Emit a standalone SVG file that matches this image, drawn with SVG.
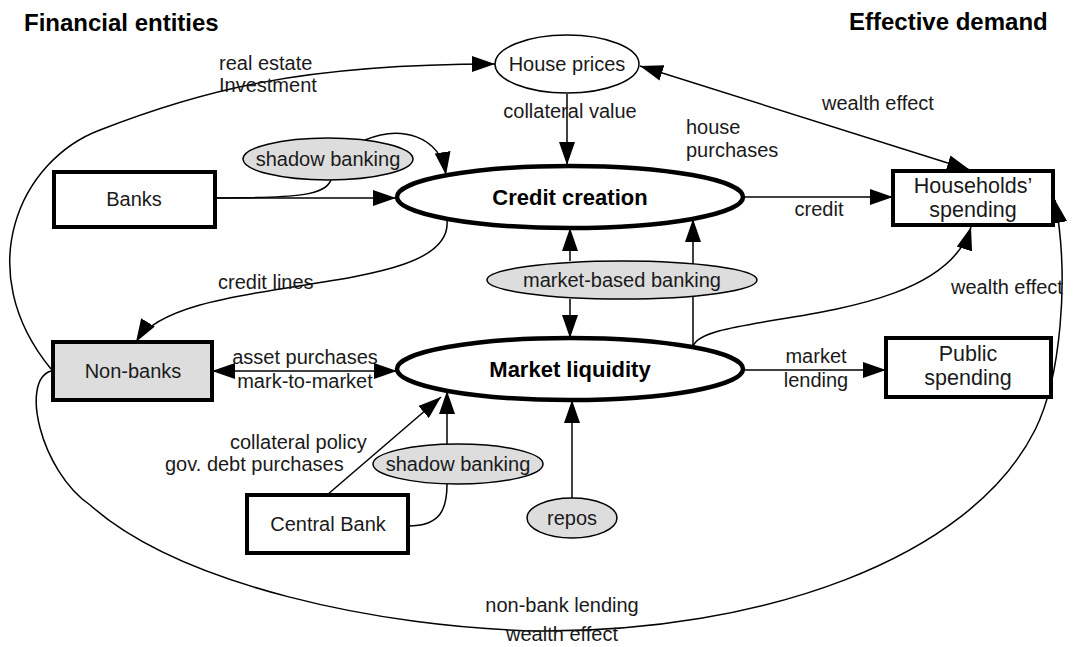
<svg xmlns="http://www.w3.org/2000/svg" width="1073" height="647" viewBox="0 0 1073 647">
<style>
text{font-family:"Liberation Sans",Arial,sans-serif;font-size:20px;fill:#1a1a1a}
.t{font-size:24px;font-weight:bold;fill:#000}
.b{font-size:22px;font-weight:bold;fill:#000}
.big{font-size:21.5px}
.m{text-anchor:middle}
.box{fill:#fff;stroke:#000;stroke-width:4}
.boxg{fill:#ddd;stroke:#000;stroke-width:4}
.ell{fill:#fff;stroke:#000;stroke-width:4.5}
.thin{fill:#fff;stroke:#000;stroke-width:1.5}
.grey{fill:#ddd;stroke:#000;stroke-width:1.5}
.c{fill:none;stroke:#000;stroke-width:1.5}
.a{marker-end:url(#ah)}
.aa{marker-start:url(#ah);marker-end:url(#ah)}
</style>
<defs>
<marker id="ah" markerUnits="userSpaceOnUse" markerWidth="23" markerHeight="16" refX="23" refY="8" orient="auto-start-reverse" viewBox="0 0 23 16">
<path d="M0,0 L23,8 L0,16 z" fill="#000"/>
</marker>
</defs>
<rect width="1073" height="647" fill="#fff"/>
<text class="t" x="24" y="31">Financial entities</text>
<text class="t" x="849" y="30">Effective demand</text>

<g id="connectors">
<path class="c a" d="M51,369 C-30,270 20,160 100,130 C200,91 300,64 495,64"/>
<path class="c a" d="M567,94 L567,165"/>
<path class="c aa" d="M640,66 L970,170"/>
<path class="c a" d="M215,198 L396,198"/>
<path class="c" d="M215,198 C300,198 325,195 331,180"/>
<path class="c a" d="M365,140 C400,125 440,135 446,175"/>
<path class="c a" d="M743,197 L893,197"/>
<path class="c a" d="M447,220 C455,300 180,270 136,342"/>
<path class="c a" d="M570,261 L570,228"/>
<path class="c a" d="M570,299 L570,338"/>
<path class="c a" d="M693,347 L693,219"/>
<path class="c a" d="M693,347 C700,310 940,330 971,227"/>
<path class="c aa" d="M212,371 L397,371"/>
<path class="c a" d="M743,370 L886,370"/>
<path class="c a" d="M327,495 L441,397"/>
<path class="c" d="M408,526 C440,526 447,510 447,484"/>
<path class="c a" d="M447,444 L447,391"/>
<path class="c a" d="M572,498 L572,400"/>
<path class="c a" d="M51,371 C20,380 40,470 90,505 C180,585 380,628 540,631 C760,632 970,560 1035,430 C1060,380 1070,280 1055,200"/>
</g>

<g id="labels">
<text x="219" y="70">real estate</text>
<text x="219" y="92">Investment</text>
<text class="m" x="570" y="118">collateral value</text>
<text x="686" y="134">house</text>
<text x="686" y="157">purchases</text>
<text x="822" y="110">wealth effect</text>
<text class="m" x="819" y="216">credit</text>
<text x="218" y="289">credit lines</text>
<text x="951" y="294">wealth effect</text>
<text class="m" x="305" y="364">asset purchases</text>
<text class="m" x="305" y="388">mark-to-market</text>
<text class="m" x="816" y="363">market</text>
<text class="m" x="816" y="387">lending</text>
<text x="230" y="449">collateral policy</text>
<text x="165" y="471">gov. debt purchases</text>
<text class="m" x="562" y="612">non-bank lending</text>
<text class="m" x="562" y="641">wealth effect</text>
</g>

<g id="house-prices"><ellipse class="thin" cx="567" cy="64" rx="72" ry="29"/><text class="m" x="567" y="71">House prices</text></g>
<g id="banks"><rect class="box" x="54" y="172" width="161" height="55"/><text class="m" x="134" y="206">Banks</text></g>
<g id="shadow-banking-1"><ellipse class="grey" cx="328" cy="159" rx="85" ry="21"/><text class="m" x="328" y="166">shadow banking</text></g>
<g id="credit-creation"><ellipse class="ell" cx="570" cy="197" rx="173" ry="31"/><text class="b m" x="570" y="205">Credit creation</text></g>
<g id="households"><rect class="box" x="893" y="171" width="160" height="54"/><text class="big m" x="973" y="193">Households’</text><text class="big m" x="973" y="217">spending</text></g>
<g id="market-based-banking"><ellipse class="grey" cx="622" cy="280" rx="135" ry="19"/><text class="m" x="622" y="287">market-based banking</text></g>
<g id="non-banks"><rect class="boxg" x="53" y="342" width="159" height="58"/><text class="m" x="133" y="378">Non-banks</text></g>
<g id="market-liquidity"><ellipse class="ell" cx="570" cy="369" rx="173" ry="31"/><text class="b m" x="570" y="377">Market liquidity</text></g>
<g id="public-spending"><rect class="box" x="886" y="338" width="165" height="59"/><text class="big m" x="968" y="361">Public</text><text class="big m" x="968" y="385">spending</text></g>
<g id="shadow-banking-2"><ellipse class="grey" cx="458" cy="464" rx="85" ry="20"/><text class="m" x="458" y="471">shadow banking</text></g>
<g id="central-bank"><rect class="box" x="247" y="495" width="161" height="58"/><text class="m" x="328" y="531">Central Bank</text></g>
<g id="repos"><ellipse class="grey" cx="572" cy="518" rx="45" ry="20"/><text class="m" x="572" y="525">repos</text></g>
</svg>
